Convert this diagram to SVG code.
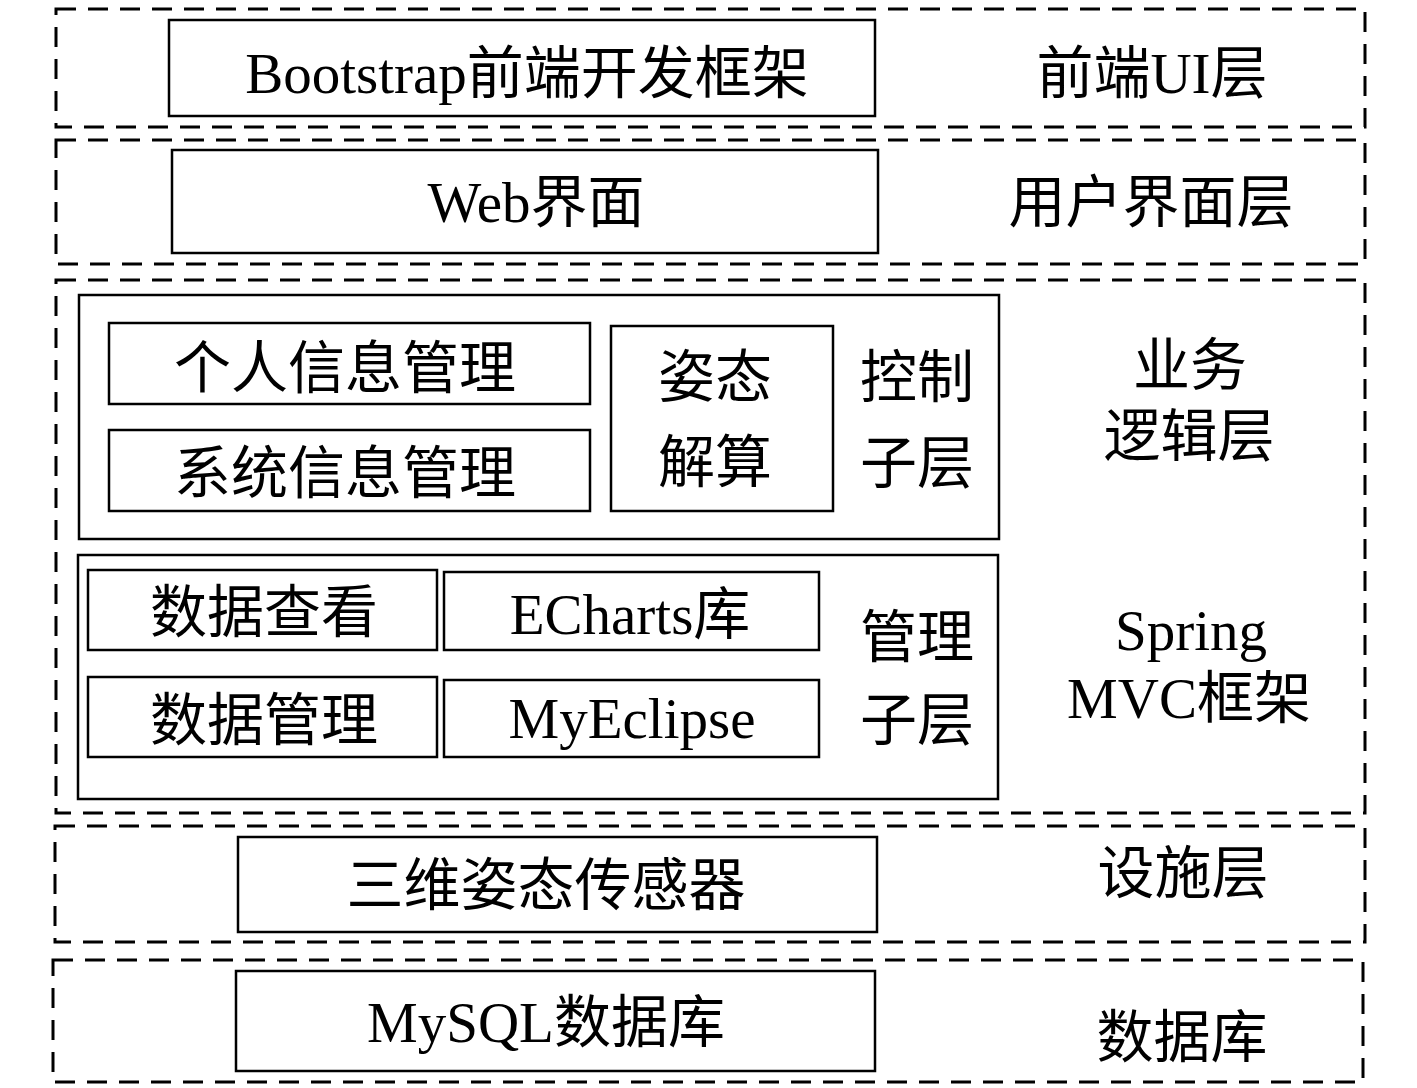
<svg xmlns="http://www.w3.org/2000/svg" width="1417" height="1088" viewBox="0 0 1417 1088">
<style>
.layer{fill:none;stroke:#000;stroke-width:3;stroke-dasharray:20 12}
.box{fill:#fff;stroke:#000;stroke-width:2.5}
text{font-family:"Liberation Serif","Noto Sans CJK SC",serif;font-size:57px;fill:#000;text-anchor:middle}
</style>
<rect width="1417" height="1088" fill="#fff"/>
<g id="layer-frontend">
<rect class="layer" x="56" y="9" width="1309" height="118"/>
<text x="1152" y="93">前端UI层</text>
</g>
<g id="layer-ui">
<rect class="layer" x="56" y="140" width="1309" height="124"/>
<text x="1151" y="222">用户界面层</text>
</g>
<g id="layer-business">
<rect class="layer" x="56" y="280" width="1309" height="533"/>
<text x="1190" y="385">业务</text>
<text x="1189" y="456">逻辑层</text>
<text x="1191" y="650">Spring</text>
<text x="1189" y="718">MVC框架</text>
</g>
<g id="layer-infra">
<rect class="layer" x="55" y="826" width="1310" height="116"/>
<text x="1183" y="893">设施层</text>
</g>
<g id="layer-db">
<rect class="layer" x="53" y="960" width="1310" height="122"/>
<text x="1182" y="1057">数据库</text>
</g>
<g id="bootstrap">
<rect class="box" x="169" y="20" width="706" height="96"/>
<text x="527" y="93">Bootstrap前端开发框架</text>
</g>
<g id="web">
<rect class="box" x="172" y="150" width="706" height="103"/>
<text x="536" y="222">Web界面</text>
</g>
<g id="control-sublayer">
<rect class="box" x="79" y="295" width="920" height="244"/>
<text x="917" y="397">控制</text>
<text x="917" y="483">子层</text>
</g>
<g id="personal-info">
<rect class="box" x="109" y="323" width="481" height="81"/>
<text x="345" y="388">个人信息管理</text>
</g>
<g id="system-info">
<rect class="box" x="109" y="430" width="481" height="81"/>
<text x="345" y="493">系统信息管理</text>
</g>
<g id="attitude-calc">
<rect class="box" x="611" y="326" width="222" height="185"/>
<text x="715" y="397">姿态</text>
<text x="715" y="482">解算</text>
</g>
<g id="manage-sublayer">
<rect class="box" x="78" y="555" width="920" height="244"/>
<text x="917" y="657">管理</text>
<text x="917" y="740">子层</text>
</g>
<g id="data-view">
<rect class="box" x="88" y="570" width="349" height="80"/>
<text x="264" y="632">数据查看</text>
</g>
<g id="echarts">
<rect class="box" x="444" y="572" width="375" height="78"/>
<text x="630" y="634">ECharts库</text>
</g>
<g id="data-manage">
<rect class="box" x="88" y="677" width="349" height="80"/>
<text x="264" y="740">数据管理</text>
</g>
<g id="myeclipse">
<rect class="box" x="444" y="680" width="375" height="77"/>
<text x="632" y="738">MyEclipse</text>
</g>
<g id="sensor">
<rect class="box" x="238" y="837" width="639" height="95"/>
<text x="546" y="905">三维姿态传感器</text>
</g>
<g id="mysql">
<rect class="box" x="236" y="971" width="639" height="100"/>
<text x="546" y="1042">MySQL数据库</text>
</g>
<g id="connectors"></g>
</svg>
